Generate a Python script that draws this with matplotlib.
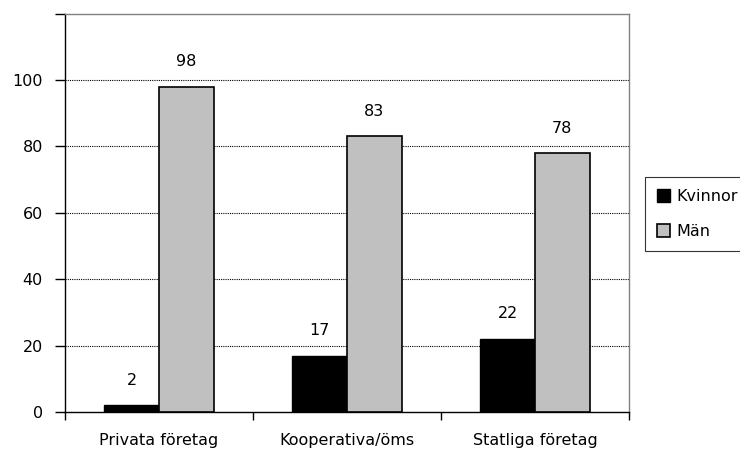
import numpy as np
import matplotlib
matplotlib.use("Agg")
import matplotlib.pyplot as plt

categories = ["Privata företag", "Kooperativa/öms", "Statliga företag"]
kvinnor = [2, 17, 22]
man = [98, 83, 78]
series_names = ["Kvinnor", "Män"]

plt.rcParams['font.family'] = ['DejaVu Sans']
fs = 11.5

fig = plt.figure(figsize=(7.4, 4.54), dpi=100)
ax = fig.add_axes([65 / 740, 1 - 412 / 454, (629 - 65) / 740, (412 - 13.6) / 454])

x = np.arange(len(categories))
w = 0.29
b1 = ax.bar(x - w / 2, kvinnor, w, color='black', edgecolor='black', linewidth=1, label=series_names[0], zorder=3)
b2 = ax.bar(x + w / 2, man, w, color='#c0c0c0', edgecolor='black', linewidth=1.2, label=series_names[1], zorder=3)

for bars, vals in ((b1, kvinnor), (b2, man)):
    for r, v in zip(bars, vals):
        ax.annotate(str(v), (r.get_x() + r.get_width() / 2, v), xytext=(0, 18),
                    textcoords='offset points', ha='center', va='center', fontsize=fs)

ax.set_xlim(-0.5, 2.5)
ax.set_ylim(0, 120)
ax.set_yticks(range(0, 121, 20))
ax.set_yticklabels([str(t) if t < 120 else "" for t in range(0, 121, 20)], fontsize=fs)
for t in range(20, 101, 20):
    ax.axhline(t, color='black', linestyle=(0, (1, 1)), linewidth=0.8, zorder=1)

ax.set_xticks([-0.5, 0.5, 1.5, 2.5])
ax.set_xticklabels([])
ax.set_xticks(x, minor=True)
ax.set_xticklabels(categories, minor=True, fontsize=fs)
ax.tick_params(axis='x', which='minor', length=0, pad=15)
ax.tick_params(axis='x', which='major', direction='out', length=6, width=1)
ax.tick_params(axis='y', direction='out', length=7, width=1, pad=9)

for s in ('left', 'bottom'):
    ax.spines[s].set_color('black')
    ax.spines[s].set_linewidth(1)
for s in ('top', 'right'):
    ax.spines[s].set_color('#808080')
    ax.spines[s].set_linewidth(1)

leg = ax.legend(loc='upper left', bbox_to_anchor=(645 / 740, 1 - 177 / 454), bbox_transform=fig.transFigure,
                frameon=True, fancybox=False, edgecolor='black', fontsize=fs,
                handlelength=0.8, handleheight=0.8, handletextpad=0.4, labelspacing=1.25,
                borderpad=0.75, borderaxespad=0)
leg.get_frame().set_linewidth(0.8)

fig.savefig("out.png", dpi=100)
